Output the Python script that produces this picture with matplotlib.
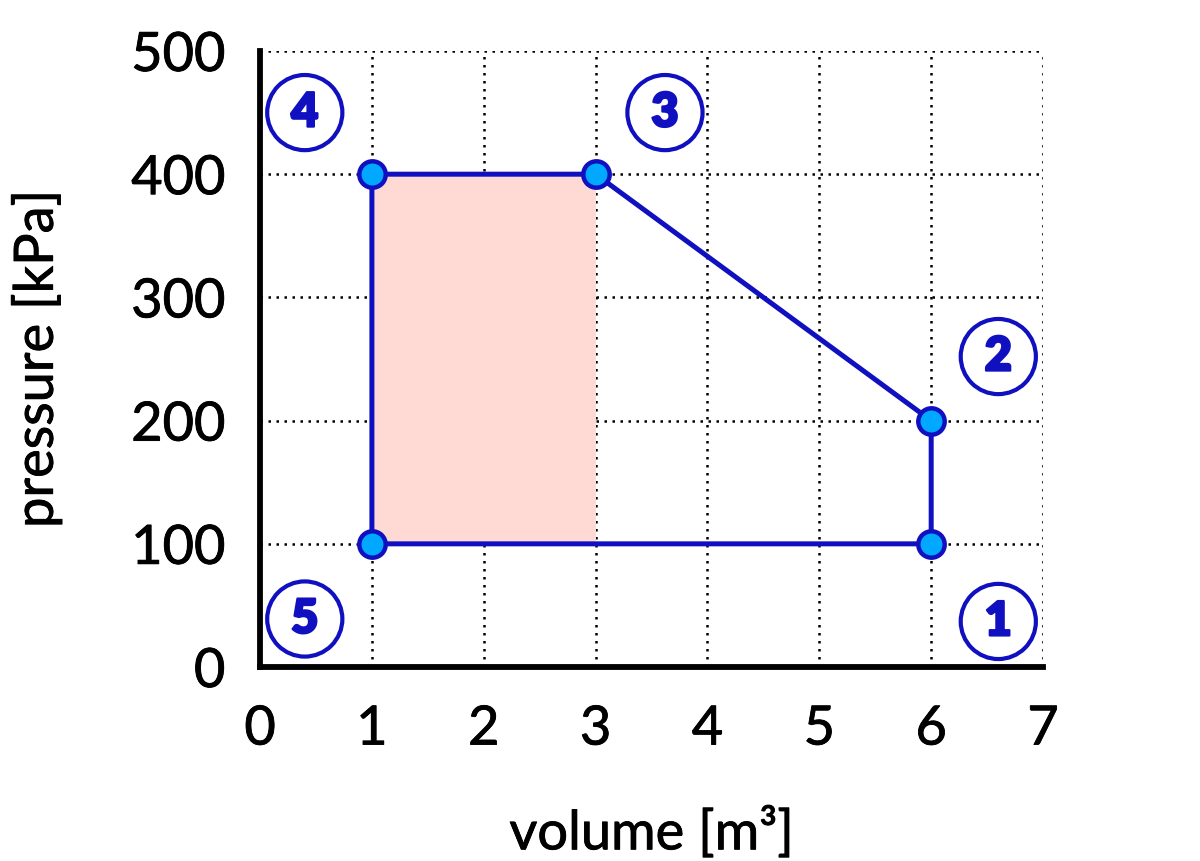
import matplotlib.pyplot as plt
import matplotlib.patheffects as pe
import numpy as np

plt.rcParams['font.family'] = ['Lato', 'DejaVu Sans']

# cycle corner points (volume, pressure)
volume = [1, 1, 3, 6, 6, 1]
pressure = [100, 400, 400, 200, 100, 100]

# shaded work region
fill_v = [1, 3]
fill_p_low = [100, 100]
fill_p_high = [400, 400]

# state labels
state_names = ['1', '2', '3', '4', '5']
state_v = [6.6, 6.6, 3.62, 0.4, 0.4]
state_p = [37, 252, 450, 450, 39]

line_col = '#1010c0'
dot_col = '#00a8ff'

fig = plt.figure(figsize=(12, 8.62), dpi=100)
ax = fig.add_axes([0.2167, 0.225, 0.6525, 0.7147])

ax.fill_between(fill_v, fill_p_low, fill_p_high, color='#ffdad4', lw=0, zorder=1)
ax.plot(volume, pressure, color=line_col, lw=3.6, zorder=3)
ax.plot(volume[:-1], pressure[:-1], 'o', ms=19, mfc=dot_col, mec=line_col, mew=3.2, zorder=4)

for s, v, p in zip(state_names, state_v, state_p):
    ax.text(v, p, s, ha='center', va='center', fontsize=34, fontweight='heavy',
            color=line_col, zorder=5,
            path_effects=[pe.withStroke(linewidth=1.6, foreground=line_col)],
            bbox=dict(boxstyle='circle,pad=0.33', fc='white', ec=line_col, lw=3))

ax.set_xlim(0, 7)
ax.set_ylim(0, 500)
ax.set_xticks(np.arange(0, 8))
ax.set_yticks(np.arange(0, 600, 100))
ax.grid(True, color='black', linestyle=(0, (1, 2.2)), lw=1.8, zorder=0)
ax.set_axisbelow(True)

for side in ['top', 'right']:
    ax.spines[side].set_visible(False)
for side in ['left', 'bottom']:
    ax.spines[side].set_linewidth(4.2)
ax.tick_params(length=0, labelsize=39)
ax.tick_params(axis='x', pad=27)
ax.tick_params(axis='y', pad=25)
thick = [pe.withStroke(linewidth=0.6, foreground='black')]
for lab in ax.get_xticklabels() + ax.get_yticklabels():
    lab.set_path_effects(thick)
ax.set_xlabel('volume [m³]', fontsize=39, labelpad=38, path_effects=thick)
ax.set_ylabel('pressure [kPa]', fontsize=39, labelpad=50, path_effects=thick)

fig.savefig('out.png')
